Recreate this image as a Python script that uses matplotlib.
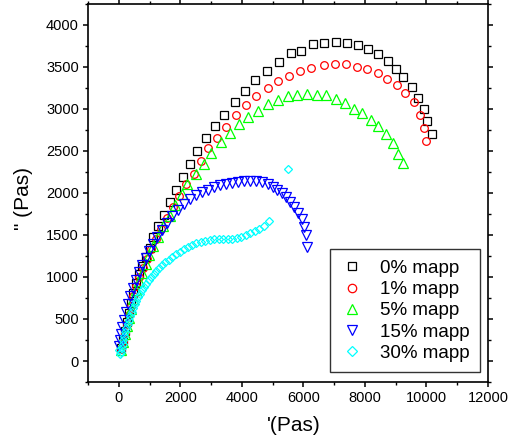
import matplotlib
matplotlib.use("Agg")
import matplotlib.pyplot as plt
from matplotlib.ticker import MultipleLocator

plt.rcParams['font.family'] = ['Liberation Sans', 'DejaVu Sans']

# 0% mapp
x0 = [65, 131, 196, 261, 326, 392, 473, 555, 653, 760, 881, 1002, 1119, 1282, 1459, 1658, 1860, 2079,
      2317, 2555, 2839, 3123, 3426, 3762, 4089, 4438, 4806, 5198, 5590, 5929, 6321, 6666, 7058, 7417,
      7766, 8102, 8428, 8745, 9006, 9244, 9518, 9714, 9920, 10008, 10190]
y0 = [151, 247, 354, 461, 568, 687, 806, 925, 1032, 1127, 1238, 1350, 1473, 1607, 1738, 1889, 2032, 2191,
      2345, 2496, 2651, 2794, 2933, 3080, 3214, 3342, 3457, 3564, 3667, 3695, 3770, 3782, 3794, 3782,
      3762, 3719, 3651, 3572, 3473, 3381, 3262, 3127, 3000, 2854, 2702]

# 1% mapp
x1 = [65, 131, 196, 261, 326, 392, 473, 555, 653, 783, 923, 1034, 1198, 1370, 1566, 1762, 1948, 2196,
      2437, 2666, 2904, 3188, 3491, 3818, 4134, 4470, 4852, 5188, 5524, 5906, 6255, 6657, 7015, 7374,
      7733, 8069, 8409, 8722, 9039, 9309, 9593, 9789, 9920, 9995]
y1 = [139, 234, 330, 437, 544, 651, 770, 889, 996, 1103, 1219, 1330, 1449, 1576, 1707, 1833, 1961, 2107,
      2231, 2378, 2541, 2655, 2791, 2925, 3048, 3155, 3255, 3330, 3393, 3457, 3488, 3529, 3536, 3541,
      3496, 3476, 3433, 3357, 3291, 3195, 3080, 2933, 2779, 2616]

# 5% mapp
x5 = [65, 131, 196, 261, 326, 392, 473, 555, 653, 760, 871, 979, 1119, 1282, 1446, 1654, 1827, 2046,
      2219, 2503, 2774, 3012, 3328, 3599, 3906, 4199, 4526, 4839, 5166, 5492, 5798, 6125, 6451, 6745,
      7048, 7342, 7636, 7906, 8190, 8428, 8670, 8898, 9071, 9234]
y5 = [127, 223, 318, 413, 508, 615, 735, 842, 949, 1050, 1151, 1258, 1366, 1476, 1604, 1723, 1854, 1993,
      2112, 2231, 2350, 2476, 2607, 2714, 2818, 2905, 2981, 3064, 3104, 3151, 3172, 3183, 3172, 3163,
      3116, 3076, 3005, 2953, 2874, 2794, 2699, 2595, 2469, 2357]

# 15% mapp
x15 = [10, 33, 65, 114, 163, 228, 294, 375, 457, 555, 653, 750, 871, 979, 1109, 1250, 1403, 1566, 1739,
       1925, 2121, 2317, 2513, 2708, 2904, 3100, 3296, 3491, 3687, 3883, 4079, 4275, 4470, 4666, 4839,
       5002, 5156, 5303, 5449, 5580, 5710, 5841, 5939, 6020, 6069, 6118]
y15 = [174, 246, 318, 401, 485, 580, 675, 770, 866, 961, 1056, 1139, 1223, 1306, 1389, 1473, 1556, 1639,
       1723, 1794, 1866, 1925, 1973, 2009, 2038, 2068, 2092, 2110, 2121, 2133, 2139, 2139, 2139, 2127,
       2104, 2074, 2038, 1996, 1949, 1895, 1833, 1764, 1687, 1598, 1497, 1360]

# 30% mapp
x30 = [16, 39, 75, 98, 124, 153, 179, 212, 245, 284, 326, 369, 414, 463, 516, 571, 630, 692, 757, 826,
       897, 972, 1051, 1135, 1224, 1316, 1413, 1517, 1625, 1739, 1860, 1984, 2111, 2242, 2375, 2512,
       2659, 2806, 2953, 3100, 3247, 3393, 3540, 3687, 3834, 3981, 4128, 4275, 4421, 4568, 4715, 4878,
       5514]
y30 = [127, 86, 104, 151, 199, 246, 294, 342, 389, 437, 484, 532, 580, 627, 675, 717, 758, 800, 842, 881,
       921, 961, 997, 1033, 1068, 1104, 1139, 1175, 1207, 1238, 1270, 1300, 1330, 1357, 1383, 1405,
       1421, 1433, 1443, 1449, 1452, 1455, 1455, 1457, 1467, 1481, 1499, 1520, 1544, 1574, 1610, 1663,
       2291]

labels = ['0% mapp', '1% mapp', '5% mapp', '15% mapp', '30% mapp']
colors = ['#000000', '#FF0000', '#00FF00', '#0000FF', '#00FFFF']
markers = ['s', 'o', '^', 'v', 'D']
msizes = [5.2, 5.5, 6.5, 6.5, 4.2]

fig = plt.figure(figsize=(5.09, 4.44), dpi=100)
ax = fig.add_axes([88 / 509, 1 - 382 / 444, 400 / 509, 378 / 444])

series = [(x0, y0), (x1, y1), (x5, y5), (x15, y15), (x30, y30)]
for (xs, ys), lab, c, m, ms in zip(series, labels, colors, markers, msizes):
    ax.plot(xs, ys, linestyle='none', marker=m, markersize=ms, markerfacecolor='none',
            markeredgecolor=c, markeredgewidth=0.9, label=lab)

ax.set_xlim(-1000, 12000)
ax.set_ylim(-250, 4250)
ax.xaxis.set_major_locator(MultipleLocator(2000))
ax.xaxis.set_minor_locator(MultipleLocator(1000))
ax.yaxis.set_major_locator(MultipleLocator(500))
ax.yaxis.set_minor_locator(MultipleLocator(250))

for s in ax.spines.values():
    s.set_linewidth(1.2)

ax.tick_params(which='major', direction='out', length=3.5, width=1.1, labelsize=10.5, pad=3)
ax.tick_params(which='minor', direction='out', length=2.2, width=1.0)
ax.tick_params(which='both', top=True, right=True, labeltop=False, labelright=False)

ax.set_xlabel("'(Pas)", fontsize=15)
ax.xaxis.set_label_coords((294 - 88) / 400, -(416 - 382) / 378)
ax.set_ylabel('" (Pas)', fontsize=15)
ax.yaxis.set_label_coords(-(88 - 33) / 400, (382 - 198) / 378)

leg = ax.legend(loc='lower right', bbox_to_anchor=(0.98, 0.026), fontsize=13.5, frameon=True,
                fancybox=False, edgecolor='black', handlelength=1.2, handletextpad=0.9,
                labelspacing=0.22, borderpad=0.55, borderaxespad=0.0, markerscale=1.1)
leg.get_frame().set_linewidth(1.0)

fig.savefig('out.png', dpi=100)
